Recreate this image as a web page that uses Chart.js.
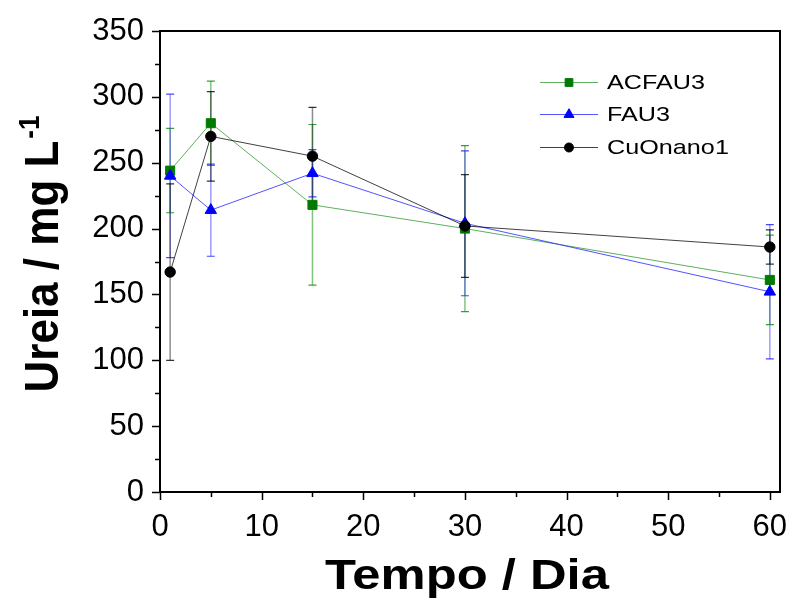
<!DOCTYPE html>
<html>
<head>
<meta charset="utf-8">
<script src="https://cdn.jsdelivr.net/npm/chart.js@4.4.0/dist/chart.umd.min.js"></script>
<style>
  html, body { margin: 0; padding: 0; background: #ffffff; }
  #wrap { width: 791px; height: 598px; }
</style>
</head>
<body>
<div id="wrap"><canvas id="c" width="791" height="598"></canvas></div>
<script>
// Sampling days and urea concentration (mg/L) with standard deviations
const days = [1, 5, 15, 30, 60];
const acfau3 = [244, 280, 218, 200, 161];
const acfau3Err = [32, 32, 61, 63, 34];
const fau3 = [240, 214, 242, 204, 152];
const fau3Err = [62, 35, 18, 55, 51];
const cuonano1 = [167, 270, 255, 202, 186];
const cuonano1Err = [67, 34, 37, 39, 13];
const seriesNames = ['ACFAU3', 'FAU3', 'CuOnano1'];
const xTickValues = [0, 10, 20, 30, 40, 50, 60];
const yTickValues = [0, 50, 100, 150, 200, 250, 300, 350];
const xTitle = 'Tempo / Dia';
const yTitle = 'Ureia / mg L';
const yTitleSup = '-1';

const FONT = '"Liberation Sans", Arial, Helvetica, sans-serif';

function toPoints(xs, ys) {
  return xs.map((x, i) => ({ x: x, y: ys[i] }));
}

const seriesStyle = [
  { line: 'rgba(40,150,40,0.75)', mark: '#007a00', stem: 'rgba(0,140,0,0.5)', cap: 'rgba(0,140,0,0.8)', style: 'rect', r: 6.4, lr: 5.5 },
  { line: 'rgba(40,40,255,0.8)', mark: '#0000ff', stem: 'rgba(60,60,255,0.5)', cap: 'rgba(40,40,255,0.85)', style: 'triangle', r: 6.6, lr: 5.8 },
  { line: 'rgba(0,0,0,0.75)', mark: '#000000', stem: 'rgba(0,0,0,0.45)', cap: 'rgba(0,0,0,0.8)', style: 'circle', r: 5.2, lr: 4.5 }
];
const seriesValues = [acfau3, fau3, cuonano1];
const seriesErrors = [acfau3Err, fau3Err, cuonano1Err];

const datasets = seriesNames.map((name, k) => ({
  label: name,
  data: toPoints(days, seriesValues[k]),
  errors: seriesErrors[k],
  showLine: true,
  borderColor: seriesStyle[k].line,
  borderWidth: 1,
  backgroundColor: seriesStyle[k].mark,
  pointBackgroundColor: seriesStyle[k].mark,
  pointBorderColor: seriesStyle[k].mark,
  pointBorderWidth: 1,
  pointStyle: seriesStyle[k].style,
  pointRadius: seriesStyle[k].r,
  pointHoverRadius: seriesStyle[k].r,
  order: 2 - k,
  tension: 0
}));

// Error bars, drawn under lines and markers
const errorBars = {
  id: 'errorBars',
  beforeDatasetsDraw(chart) {
    const ctx = chart.ctx;
    const xs = chart.scales.x, ys = chart.scales.y;
    ctx.save();
    chart.data.datasets.forEach((ds, k) => {
      const st = seriesStyle[k];
      ds.data.forEach((p, i) => {
        const e = ds.errors[i];
        const px = xs.getPixelForValue(p.x);
        const top = ys.getPixelForValue(p.y + e);
        const bot = ys.getPixelForValue(p.y - e);
        ctx.lineWidth = 1.5;
        ctx.strokeStyle = st.stem;
        ctx.beginPath();
        ctx.moveTo(px, top); ctx.lineTo(px, bot);
        ctx.stroke();
        ctx.strokeStyle = st.cap;
        ctx.lineWidth = 1.2;
        ctx.beginPath();
        ctx.moveTo(px - 4, top); ctx.lineTo(px + 4, top);
        ctx.moveTo(px - 4, bot); ctx.lineTo(px + 4, bot);
        ctx.stroke();
      });
    });
    ctx.restore();
  }
};

// Text drawn with a horizontal stretch factor
function wideText(ctx, text, x, y, sx) {
  ctx.save();
  ctx.translate(x, y);
  ctx.scale(sx, 1);
  ctx.fillText(text, 0, 0);
  ctx.restore();
}

// Frame, tick marks, legend and axis titles
const decorations = {
  id: 'decorations',
  afterDraw(chart) {
    const ctx = chart.ctx;
    const a = chart.chartArea;
    const xs = chart.scales.x, ys = chart.scales.y;
    ctx.save();
    ctx.strokeStyle = '#000';
    // frame on top and right
    ctx.lineWidth = 2;
    ctx.beginPath();
    ctx.moveTo(a.left, a.top); ctx.lineTo(a.right, a.top); ctx.lineTo(a.right, a.bottom);
    ctx.stroke();
    // tick marks
    ctx.lineWidth = 1.5;
    ctx.beginPath();
    for (let v = 0; v <= 350; v += 25) {
      const py = Math.round(ys.getPixelForValue(v)) + 0.5;
      const len = (v % 50 === 0) ? 8 : 5;
      ctx.moveTo(a.left, py); ctx.lineTo(a.left - len, py);
    }
    for (let v = 0; v <= 60; v += 5) {
      const px = Math.round(xs.getPixelForValue(v)) + 0.5;
      const len = (v % 10 === 0) ? 8 : 5;
      ctx.moveTo(px, a.bottom); ctx.lineTo(px, a.bottom + len);
    }
    ctx.stroke();

    // legend
    const rowY = [82, 114, 147];
    chart.data.datasets.forEach((ds, k) => {
      const st = seriesStyle[k];
      ctx.strokeStyle = st.line;
      ctx.lineWidth = 1;
      ctx.beginPath();
      ctx.moveTo(540, rowY[k] + 0.5); ctx.lineTo(598, rowY[k] + 0.5);
      ctx.stroke();
      ctx.fillStyle = st.mark;
      ctx.strokeStyle = st.mark;
      Chart.helpers.drawPoint(ctx, { pointStyle: st.style, radius: st.lr, borderWidth: 1, rotation: 0 }, 569, rowY[k] + 0.5);
      ctx.fillStyle = '#000';
      ctx.font = '21px ' + FONT;
      ctx.textBaseline = 'middle';
      ctx.textAlign = 'left';
      wideText(ctx, ds.label, 607, rowY[k] + 1, 1.2);
    });

    // x axis title
    ctx.fillStyle = '#000';
    ctx.font = 'bold 43px ' + FONT;
    ctx.textAlign = 'center';
    ctx.textBaseline = 'alphabetic';
    wideText(ctx, xTitle, (a.left + a.right) / 2 - 3, 589, 1.18);

    // y axis title with superscript
    ctx.save();
    ctx.translate(58, 254);
    ctx.rotate(-Math.PI / 2);
    ctx.scale(1, 1.1);
    ctx.textAlign = 'left';
    ctx.font = 'bold 44px ' + FONT;
    const w1 = ctx.measureText(yTitle).width;
    ctx.font = 'bold 26px ' + FONT;
    const w2 = ctx.measureText(yTitleSup).width;
    const start = -(w1 + w2 + 2) / 2;
    ctx.font = 'bold 44px ' + FONT;
    ctx.fillText(yTitle, start, 0);
    ctx.font = 'bold 26px ' + FONT;
    ctx.fillText(yTitleSup, start + w1 + 2, -17);
    ctx.restore();
    ctx.restore();
  }
};

function fixBox(w, h) {
  return function (s) {
    if (w !== null) s.width = w;
    if (h !== null) s.height = h;
    s.paddingLeft = 0; s.paddingRight = 0; s.paddingTop = 0; s.paddingBottom = 0;
  };
}

new Chart(document.getElementById('c'), {
  type: 'scatter',
  data: { datasets: datasets },
  options: {
    responsive: false,
    animation: false,
    devicePixelRatio: 1,
    layout: { padding: { top: 31, right: 11, left: 0, bottom: 0 } },
    plugins: { legend: { display: false }, tooltip: { enabled: false } },
    scales: {
      x: {
        type: 'linear',
        min: 0,
        max: 61,
        afterBuildTicks: s => { s.ticks = xTickValues.map(v => ({ value: v })); },
        afterFit: fixBox(null, 106),
        grid: { display: false, drawTicks: false },
        border: { display: true, color: '#000', width: 2 },
        ticks: {
          padding: 17,
          color: '#000',
          maxRotation: 0,
          autoSkip: false,
          font: { family: FONT, size: 31 }
        }
      },
      y: {
        type: 'linear',
        min: 0,
        max: 350,
        afterBuildTicks: s => { s.ticks = yTickValues.map(v => ({ value: v })); },
        afterFit: fixBox(160, null),
        grid: { display: false, drawTicks: false },
        border: { display: true, color: '#000', width: 2 },
        ticks: {
          padding: 16,
          color: '#000',
          autoSkip: false,
          font: { family: FONT, size: 31 }
        }
      }
    }
  },
  plugins: [errorBars, decorations]
});
</script>
</body>
</html>
